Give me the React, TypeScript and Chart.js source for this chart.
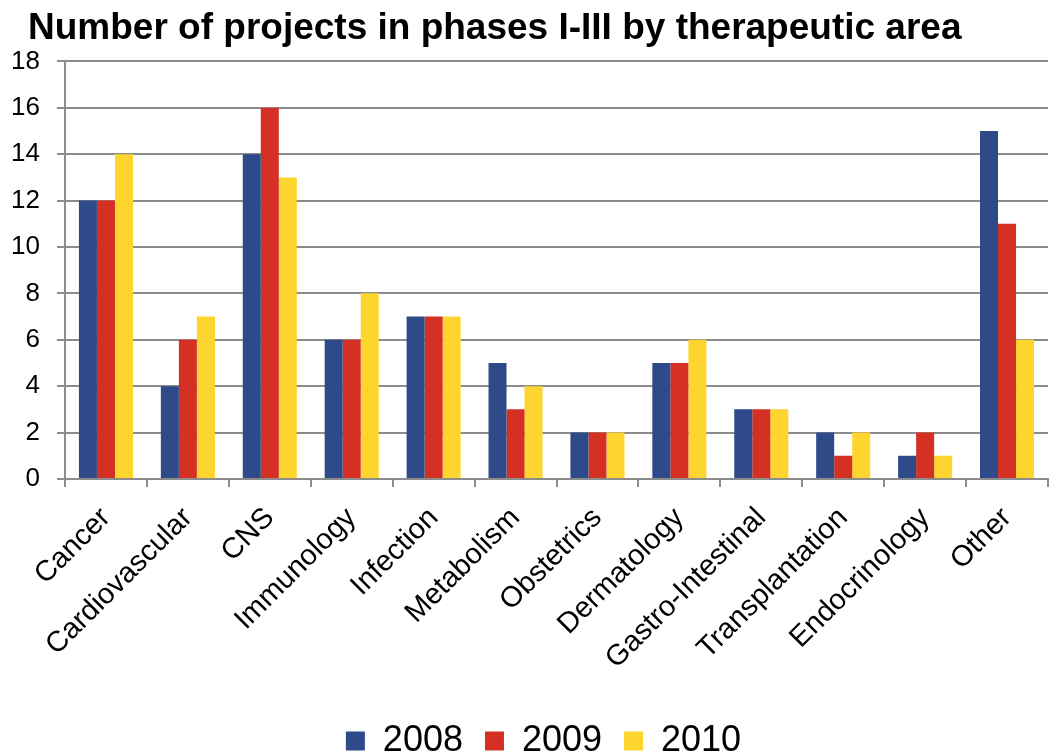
import React, { useEffect, useRef } from "react";
import { Chart, registerables } from "chart.js";

Chart.register(...registerables);

const categories = [
  "Cancer", "Cardiovascular", "CNS", "Immunology", "Infection", "Metabolism",
  "Obstetrics", "Dermatology", "Gastro-Intestinal", "Transplantation", "Endocrinology", "Other",
];
const series2008 = [12, 4, 14, 6, 7, 5, 2, 5, 3, 2, 1, 15];
const series2009 = [12, 6, 16, 6, 7, 3, 2, 5, 3, 1, 2, 11];
const series2010 = [14, 7, 13, 8, 7, 4, 2, 6, 3, 2, 1, 6];
const seriesLabels = ["2008", "2009", "2010"];
const titleText = "Number of projects in phases I-III by therapeutic area";

const FONT = "'Liberation Sans', Arial, sans-serif";

const layoutTweaks = {
  id: "layoutTweaks",
  afterLayout(chart: any) {
    const tb = chart.titleBlock;
    if (tb) {
      tb.left += 17;
      tb.right += 17;
    }
    const lg = chart.legend;
    if (lg) {
      lg.top += 15;
      lg.bottom += 15;
      lg.left += 14;
      lg.right += 14;
    }
  },
};

export default function App() {
  const ref = useRef<HTMLCanvasElement>(null);
  useEffect(() => {
    const ctx = ref.current!;
    const chart = new Chart(ctx, {
      type: "bar",
      data: {
        labels: categories,
        datasets: [
          { label: seriesLabels[0], data: series2008, backgroundColor: "#2E4A89" },
          { label: seriesLabels[1], data: series2009, backgroundColor: "#D43124" },
          { label: seriesLabels[2], data: series2010, backgroundColor: "#FDD52E" },
        ],
      },
      options: {
        animation: false,
        responsive: false,
        maintainAspectRatio: false,
        datasets: { bar: { categoryPercentage: 0.66, barPercentage: 1.0 } },
        layout: { padding: { left: 11, right: 4, top: 0, bottom: 0 } },
        plugins: {
          title: {
            display: true,
            text: titleText,
            align: "start",
            color: "#000",
            font: { family: FONT, size: 37, weight: "bold", lineHeight: 1.2 },
            padding: { top: 7, bottom: 10 },
          },
          legend: {
            display: true,
            position: "bottom",
            labels: {
              color: "#000",
              font: { family: FONT, size: 36 },
              boxWidth: 19,
              boxHeight: 19,
              padding: 22,
            },
          },
          tooltip: { enabled: false },
        },
        scales: {
          x: {
            afterFit(scale: any) {
              scale.paddingLeft = 0;
              scale.height -= 4;
            },
            grid: {
              display: true,
              drawOnChartArea: false,
              drawTicks: true,
              tickLength: 8,
              color: "#8c8c8c",
              lineWidth: 2,
              offset: true,
            },
            border: { display: true, color: "#8c8c8c", width: 2 },
            ticks: {
              color: "#000",
              font: { family: FONT, size: 29 },
              maxRotation: 45,
              minRotation: 45,
              autoSkip: false,
              padding: 14,
            },
          },
          y: {
            min: 0,
            max: 18,
            afterFit(scale: any) {
              scale.width = 54;
            },
            grid: {
              color: "#8c8c8c",
              lineWidth: 2,
              tickLength: 8,
              drawTicks: true,
            },
            border: { display: true, color: "#8c8c8c", width: 2 },
            ticks: {
              stepSize: 2,
              color: "#000",
              font: { family: FONT, size: 26 },
              padding: 17,
            },
          },
        },
      },
      plugins: [layoutTweaks],
    });
    return () => chart.destroy();
  }, []);
  return (
    <div style={{ position: "fixed", left: 0, top: 0, width: 1052, height: 754, background: "#fff" }}>
      <canvas ref={ref} width={1052} height={754} style={{ width: 1052, height: 754 }} />
    </div>
  );
}
